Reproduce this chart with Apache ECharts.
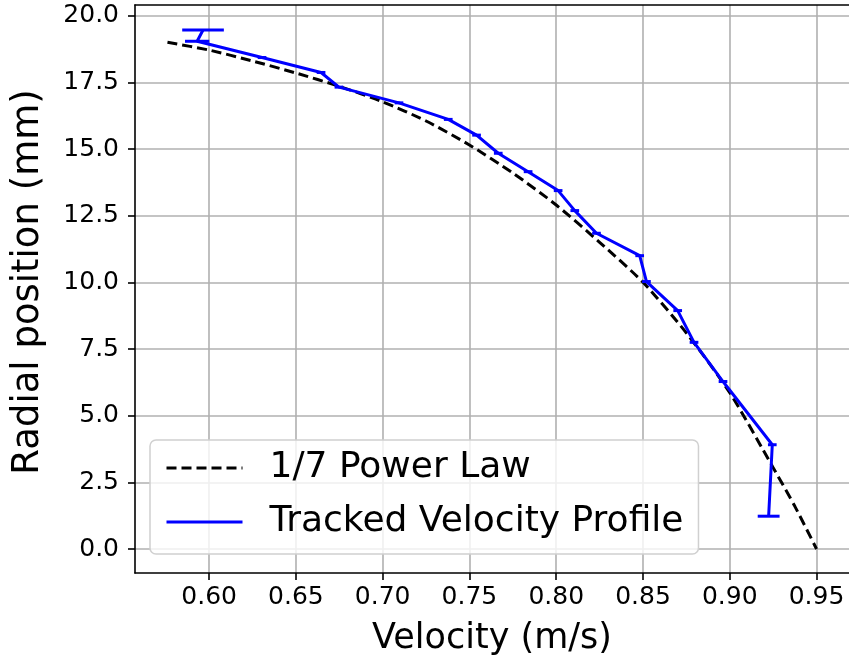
<!DOCTYPE html>
<html>
<head>
<meta charset="utf-8">
<script src="https://cdn.jsdelivr.net/npm/echarts@6/dist/echarts.min.js"></script>
<style>
html,body{margin:0;padding:0;background:#fff;}
#chart{width:849px;height:660px;}
</style>
</head>
<body>
<div id="chart"></div>
<script>
// ---- data ----
const xTickValues = [0.60, 0.65, 0.70, 0.75, 0.80, 0.85, 0.90, 0.95];
const yTickValues = [0.0, 2.5, 5.0, 7.5, 10.0, 12.5, 15.0, 17.5, 20.0];

const powerLawVelocity = [0.576, 0.600, 0.625, 0.650, 0.675, 0.700, 0.725, 0.750, 0.775, 0.800, 0.825, 0.850, 0.875, 0.900, 0.925, 0.9375, 0.950];
const powerLawPosition = [19.0, 18.71, 18.3, 17.85, 17.35, 16.77, 16.05, 15.15, 14.1, 12.9, 11.5, 10.0, 8.1, 5.86, 3.05, 1.6, 0.0];

const trackedVelocity = [0.5965, 0.5931, 0.6305, 0.6645, 0.6748, 0.7094, 0.7378, 0.7541, 0.7666, 0.7838, 0.8011, 0.8107, 0.8232, 0.8481, 0.8520, 0.8700, 0.8794, 0.8961, 0.9245, 0.9224];
const trackedPosition = [19.46, 19.04, 18.43, 17.87, 17.32, 16.73, 16.11, 15.52, 14.84, 14.15, 13.44, 12.69, 11.84, 11.00, 10.03, 8.94, 7.75, 6.28, 3.91, 1.23];
const trackedError    = [0.012, 0.007, 0.0025, 0.0025, 0.0025, 0.0025, 0.0025, 0.0025, 0.0025, 0.0025, 0.0025, 0.0025, 0.0025, 0.0025, 0.0025, 0.0025, 0.0025, 0.0025, 0.0025, 0.0063];

const seriesNames = ['1/7 Power Law', 'Tracked Velocity Profile'];
const xTitle = 'Velocity (m/s)';
const yTitle = 'Radial position (mm)';

// ---- chart ----
const FONT = 'DejaVu Sans';
const powerData = powerLawVelocity.map((v, i) => [v, powerLawPosition[i]]);
const trackedData = trackedVelocity.map((v, i) => [v, trackedPosition[i]]);
const errData = trackedVelocity.map((v, i) => [v, trackedPosition[i], trackedError[i]]);

const chart = echarts.init(document.getElementById('chart'), null, {renderer: 'canvas'});
const gridLine = {show: true, lineStyle: {color: '#b0b0b0', width: 1.6}};
chart.setOption({
  animation: false,
  backgroundColor: '#ffffff',
  textStyle: {fontFamily: FONT},
  grid: {left: 135, right: 0, top: 5, bottom: 87, containLabel: false, outerBoundsMode: 'none'},
  xAxis: [{
    type: 'value', min: 0.5573, max: 0.9687,
    name: xTitle, nameLocation: 'middle', nameGap: 48,
    nameTextStyle: {fontSize: 35, color: '#000', fontFamily: FONT},
    axisLine: {show: true, onZero: false, lineStyle: {color: '#000', width: 1.6}},
    axisTick: {show: true, length: 7, customValues: xTickValues, lineStyle: {color: '#000', width: 1.6}},
    axisLabel: {customValues: xTickValues, margin: 12, fontSize: 25, color: '#000', fontFamily: FONT,
      formatter: v => v.toFixed(2)},
    splitLine: gridLine
  }, {
    type: 'value', position: 'top', min: 0.5573, max: 0.9687,
    axisLine: {show: true, onZero: false, lineStyle: {color: '#000', width: 1.6}},
    axisTick: {show: false}, axisLabel: {show: false}, splitLine: {show: false}
  }],
  yAxis: [{
    type: 'value', min: -0.9, max: 20.4,
    name: yTitle, nameLocation: 'middle', nameGap: 88, nameRotate: 90,
    nameTextStyle: {fontSize: 37, color: '#000', fontFamily: FONT, padding: [0, 0, 0, 14]},
    axisLine: {show: true, onZero: false, lineStyle: {color: '#000', width: 1.6}},
    axisTick: {show: true, length: 7, customValues: yTickValues, lineStyle: {color: '#000', width: 1.6}},
    axisLabel: {customValues: yTickValues, margin: 16, fontSize: 25, color: '#000', fontFamily: FONT,
      formatter: v => v.toFixed(1)},
    splitLine: gridLine
  }],
  legend: {
    orient: 'vertical', left: 150, top: 440,
    data: seriesNames,
    itemWidth: 76, itemHeight: 14, itemGap: 18,
    padding: [10, 15, 14, 15],
    backgroundColor: 'rgba(255,255,255,0.8)',
    borderColor: '#d0d0d0', borderWidth: 1.5, borderRadius: 6,
    itemStyle: {color: 'rgba(0,0,0,0)', borderWidth: 0, opacity: 0},
    lineStyle: {width: 3},
    textStyle: {fontSize: 36, color: '#000', fontFamily: FONT, padding: [0, 0, 0, 22]}
  },
  series: [{
    name: seriesNames[0], type: 'line', data: powerData,
    symbol: 'none', smooth: 0.25, z: 3,
    lineStyle: {color: '#000', width: 3, type: [10, 5]},
    itemStyle: {color: '#000'}
  }, {
    name: seriesNames[1], type: 'line', data: trackedData,
    symbol: 'none', z: 4,
    lineStyle: {color: '#0000ff', width: 3},
    itemStyle: {color: '#0000ff'}
  }, {
    name: 'err', type: 'custom', data: errData, z: 5,
    encode: {x: 0, y: 1},
    renderItem: function (params, api) {
      const x = api.value(0), y = api.value(1), e = api.value(2);
      const a = api.coord([x - e, y]);
      const b = api.coord([x + e, y]);
      return {type: 'line', shape: {x1: a[0], y1: a[1], x2: b[0], y2: b[1]},
        style: {stroke: '#0000ff', lineWidth: 3}};
    }
  }]
});
</script>
</body>
</html>
